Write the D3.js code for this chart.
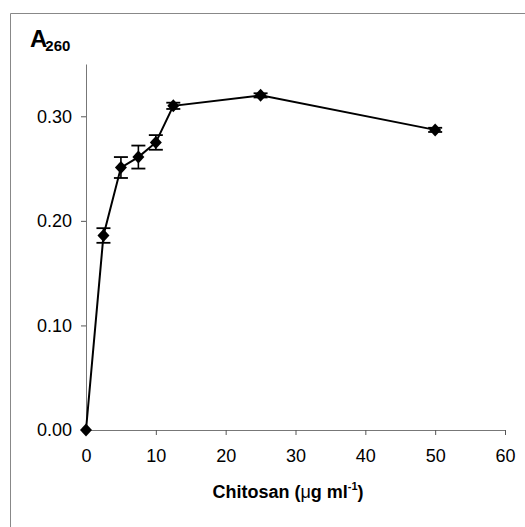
<!DOCTYPE html>
<html>
<head>
<meta charset="utf-8">
<script src="https://cdn.jsdelivr.net/npm/d3@7"></script>
<style>
  body { margin: 0; background: #fff; }
  text { font-family: Arial, "Liberation Sans", sans-serif; }
</style>
</head>
<body>
<script>
// data
var conc = [0, 2.5, 5, 7.5, 10, 12.5, 25, 50];
var absorb = [0.000, 0.186, 0.251, 0.261, 0.275, 0.310, 0.320, 0.287];
var errs = [0.000, 0.007, 0.010, 0.011, 0.007, 0.003, 0.002, 0.002];
var xTicks = [0, 10, 20, 30, 40, 50, 60];
var yTicks = [0, 0.1, 0.2, 0.3];

var outWidth = 525, outHeight = 527;
var margin = {top: 64, left: 86},
    width = 505 - 86,
    height = 430 - 64;

var svg = d3.select("body").append("svg")
    .attr("width", outWidth)
    .attr("height", outHeight);

// frame (only top + left visible)
svg.append("path")
    .attr("d", "M10.5,527V13.5H525")
    .attr("fill", "none")
    .attr("stroke", "#888")
    .attr("stroke-width", 1);

var g = svg.append("g")
    .attr("transform", "translate(" + margin.left + "," + margin.top + ")");

var xScale = d3.scaleLinear().domain([0, 60]).range([0, width]);
var yScale = d3.scaleLinear().domain([0, 0.35]).range([height, 0]);

var xAxis = d3.axisBottom(xScale).tickValues(xTicks).tickSize(5).tickSizeOuter(0).tickPadding(14);
var yAxis = d3.axisLeft(yScale).tickValues(yTicks).tickSize(5).tickSizeOuter(0).tickPadding(9)
    .tickFormat(d3.format(".2f"));

var xg = g.append("g")
    .attr("transform", "translate(0," + height + ")")
    .call(xAxis);
var yg = g.append("g").call(yAxis);

[xg, yg].forEach(function(a) {
  a.select(".domain").attr("stroke", "#777");
  a.selectAll(".tick line").attr("stroke", "#555");
  a.selectAll(".tick text").attr("font-size", 18).attr("fill", "#000")
    .style("font-family", "Arial, 'Liberation Sans', sans-serif");
});

var pts = conc.map(function(c, i) { return {x: c, y: absorb[i], e: errs[i]}; });

// error bars
var eb = g.selectAll(".err").data(pts.filter(function(d) { return d.e > 0; }))
  .enter().append("g").attr("class", "err");
eb.append("line")
    .attr("x1", function(d) { return xScale(d.x); })
    .attr("x2", function(d) { return xScale(d.x); })
    .attr("y1", function(d) { return yScale(d.y + d.e); })
    .attr("y2", function(d) { return yScale(d.y - d.e); })
    .attr("stroke", "#000").attr("stroke-width", 1.6);
[1, -1].forEach(function(s) {
  eb.append("line")
    .attr("x1", function(d) { return xScale(d.x) - 7; })
    .attr("x2", function(d) { return xScale(d.x) + 7; })
    .attr("y1", function(d) { return yScale(d.y + s * d.e); })
    .attr("y2", function(d) { return yScale(d.y + s * d.e); })
    .attr("stroke", "#000").attr("stroke-width", 1.8);
});

// line
var line = d3.line()
    .x(function(d) { return xScale(d.x); })
    .y(function(d) { return yScale(d.y); });
g.append("path")
    .datum(pts)
    .attr("d", line)
    .attr("fill", "none")
    .attr("stroke", "#000")
    .attr("stroke-width", 2);

// diamond markers
g.selectAll(".pt").data(pts).enter().append("path")
    .attr("class", "pt")
    .attr("transform", function(d) { return "translate(" + xScale(d.x) + "," + yScale(d.y) + ")"; })
    .attr("d", "M0,-6.5L6,0L0,6.5L-6,0Z")
    .attr("fill", "#000");

// titles
var yt = svg.append("text")
    .attr("x", 30).attr("y", 47)
    .attr("font-weight", "bold").attr("font-size", 24);
yt.append("tspan").text("A");
yt.append("tspan").attr("font-size", 15).attr("dy", 4).attr("dx", -2).text("260");

var xt = svg.append("text")
    .attr("x", 288).attr("y", 498)
    .attr("text-anchor", "middle")
    .attr("font-weight", "bold").attr("font-size", 18);
xt.append("tspan").text("Chitosan (");
xt.append("tspan").attr("font-weight", "normal").text("\u03bc");
xt.append("tspan").text("g ml");
xt.append("tspan").attr("font-size", 11).attr("dy", -8).text("-1");
xt.append("tspan").attr("dy", 8).text(")");
</script>
</body>
</html>
